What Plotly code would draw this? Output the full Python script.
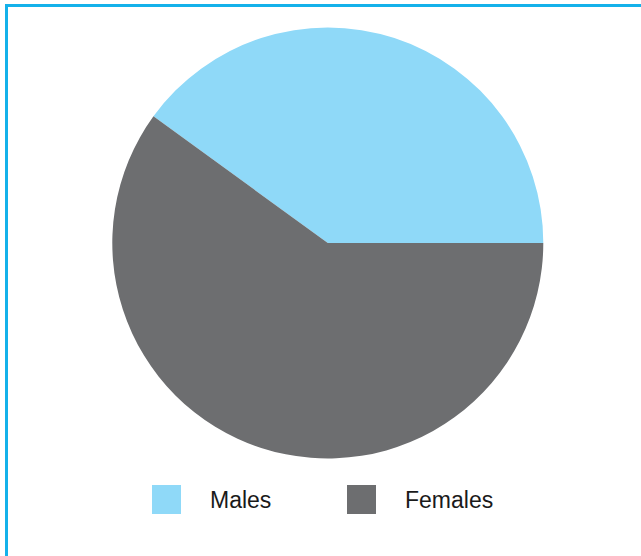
import plotly.graph_objects as go

W, H = 641, 556

categories = ["Males", "Females"]
values = [40, 60]
colors = ["#8fd9f8", "#6d6e70"]

def px(x):
    return x / W

def py(y):
    return 1 - y / H

fig = go.Figure()
cx, cy, r = 327.8, 243.0, 215.5
start = 90 - 360 * values[0] / sum(values)
fig.add_trace(go.Pie(
    labels=categories,
    values=values,
    marker=dict(colors=colors, line=dict(width=0)),
    sort=False,
    direction="clockwise",
    rotation=start,
    textinfo="none",
    hoverinfo="label+percent",
    showlegend=False,
    domain=dict(x=[px(cx - r), px(cx + r)], y=[py(cy + r), py(cy - r)]),
))

shapes = []
annotations = []
# border lines (left and top)
border = "#14b1ea"
shapes.append(dict(type="rect", xref="paper", yref="paper",
                   x0=px(5), x1=px(8), y0=py(556), y1=py(4),
                   fillcolor=border, line=dict(width=0)))
shapes.append(dict(type="rect", xref="paper", yref="paper",
                   x0=px(5), x1=px(641), y0=py(7), y1=py(4),
                   fillcolor=border, line=dict(width=0)))

# custom legend
sq_x = [152, 347]
txt_x = [208, 403]
for i, name in enumerate(categories):
    shapes.append(dict(type="rect", xref="paper", yref="paper",
                       x0=px(sq_x[i]), x1=px(sq_x[i] + 29),
                       y0=py(514), y1=py(485),
                       fillcolor=colors[i], line=dict(width=0)))
    annotations.append(dict(text=name, xref="paper", yref="paper",
                            x=px(txt_x[i]), y=py(500), xanchor="left", yanchor="middle",
                            showarrow=False,
                            font=dict(family="Liberation Sans, Arial", size=23, color="#1a1a1a")))

fig.update_layout(
    width=W, height=H,
    margin=dict(l=0, r=0, t=0, b=0),
    paper_bgcolor="white",
    plot_bgcolor="white",
    shapes=shapes,
    annotations=annotations,
    showlegend=False,
)

fig.write_html("out.html", config={"displayModeBar": False},
               post_script="document.body.style.margin='0';document.body.style.overflow='hidden';")
